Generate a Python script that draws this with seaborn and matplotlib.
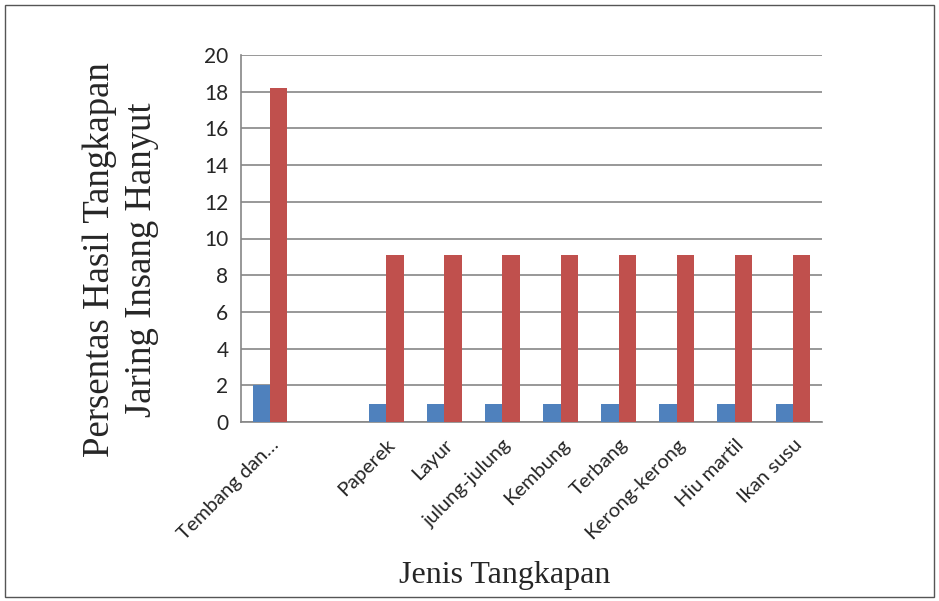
import matplotlib
matplotlib.use("Agg")
import matplotlib.pyplot as plt
import seaborn as sns
import pandas as pd
from matplotlib.patches import Rectangle

categories = ["Tembang dan…", " ", "Paperek", "Layur", "julung-julung", "Kembung",
              "Terbang", "Kerong-kerong", "Hiu martil", "Ikan susu"]
series_a = [2, 0, 1, 1, 1, 1, 1, 1, 1, 1]
series_b = [18.18, 0, 9.09, 9.09, 9.09, 9.09, 9.09, 9.09, 9.09, 9.09]
series_names = ["A", "B"]
yticks = [0, 2, 4, 6, 8, 10, 12, 14, 16, 18, 20]

df = pd.DataFrame({
    "cat": categories * 2,
    "val": series_a + series_b,
    "series": [series_names[0]] * len(categories) + [series_names[1]] * len(categories),
})

sns.set_style("white")
plt.rcParams["font.family"] = ["Lato", "DejaVu Sans"]

fig = plt.figure(figsize=(9.39, 6.01), dpi=100)
ax = fig.add_axes([241/939, 1-422/601, (822-241)/939, (422-55)/601])

sns.barplot(data=df, x="cat", y="val", hue="series", order=categories,
            palette=["#4F81BD", "#C0504D"], width=0.6, ax=ax, legend=False,
            saturation=1, zorder=3, linewidth=0)

ax.set_ylim(0, 20)
ax.set_xlim(-0.5, len(categories) - 0.5)
ax.set_yticks(yticks)
ax.yaxis.grid(True, color="#868686", linewidth=1.2, zorder=0)
ax.set_axisbelow(True)
for s in ["top", "right"]:
    ax.spines[s].set_visible(False)
for s in ["left", "bottom"]:
    ax.spines[s].set_color("#868686")
    ax.spines[s].set_linewidth(1.2)

ax.tick_params(axis="y", length=5, width=1.2, color="#868686", labelsize=15, pad=4)
ax.set_xticks(range(len(categories)))
ax.set_xticklabels(categories, rotation=45, ha="right", rotation_mode="anchor", fontsize=14.5)
ax.tick_params(axis="x", length=0, pad=10)
ax.set_xticks([i - 0.5 for i in range(len(categories) + 1)], minor=True)
ax.tick_params(axis="x", which="minor", length=6, width=1.2, color="#868686")

ax.set_xlabel("")
ax.set_ylabel("")
fig.text(121/939, 1-260/601, "Persentas Hasil Tangkapan\nJaring Insang Hanyut",
         rotation=90, ha="center", va="center", fontsize=26.5,
         family=["Liberation Serif"], linespacing=1.3)
fig.text(505/939, 1-576/601, "Jenis Tangkapan", ha="center", va="center",
         fontsize=23, family=["Liberation Serif"])

fig.patches.append(Rectangle((5/939, 4/601), 929/939, 592/601, transform=fig.transFigure,
                             fill=False, edgecolor="#555555", linewidth=1))

fig.savefig("out.png", dpi=100)
